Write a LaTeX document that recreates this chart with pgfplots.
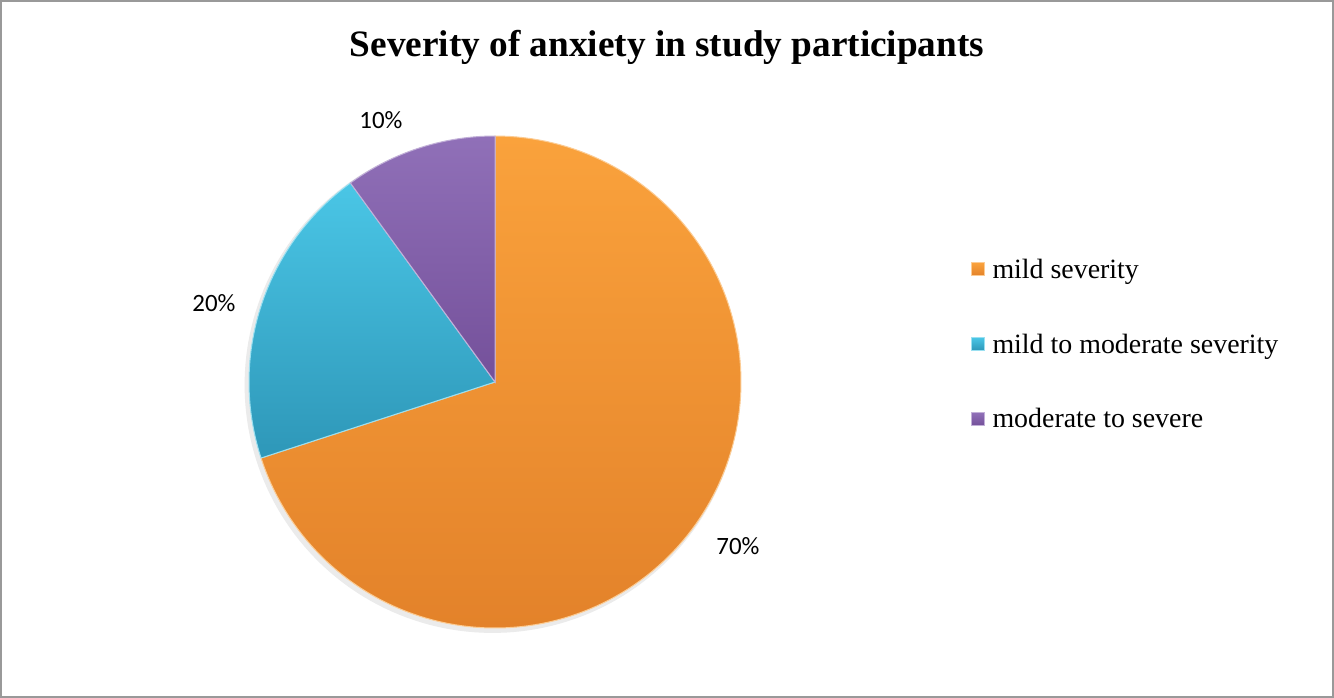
\documentclass[border=0pt]{standalone}
\usepackage{fontspec}
\setmainfont{Liberation Serif}
\newfontfamily\carlito{Carlito}
\usepackage{pgfplots}
\pgfplotsset{compat=1.18}
\definecolor{orA}{HTML}{FAA23C}
\definecolor{orB}{HTML}{E3822A}
\definecolor{cyA}{HTML}{4AC6E6}
\definecolor{cyB}{HTML}{2E97B8}
\definecolor{puA}{HTML}{9070B8}
\definecolor{puB}{HTML}{74509A}
% data (percent)
\def\vMild{70}
\def\vMidMod{20}
\def\vModSev{10}
\pgfmathsetmacro\aA{90}
\pgfmathsetmacro\aB{90-3.6*\vMild}
\pgfmathsetmacro\aC{\aB-3.6*\vMidMod}
\pgfmathsetmacro\aD{\aC-3.6*\vModSev}
\begin{document}
\begin{tikzpicture}
\useasboundingbox (0,0) rectangle (1334bp,-698bp);
\fill[white] (0,0) rectangle (1334bp,-698bp);
\draw[black!40, line width=2bp] (1bp,-1bp) rectangle (1333bp,-697bp);
\node[anchor=base, font=\bfseries\fontsize{37.4}{40}\selectfont] at (667bp,-56bp) {Severity of anxiety in study participants};
\begin{axis}[at={(495bp,-382bp)}, anchor=center, x=246bp, y=246bp,
 xmin=-1, xmax=1, ymin=-1, ymax=1, hide axis, clip=false,
 legend style={at={(axis description cs:1.460,0.577)}, anchor=west, draw=none, fill=none,
   font=\fontsize{28}{30}\selectfont, row sep=50bp,
   /tikz/every odd column/.append style={column sep=6bp}},
 legend cell align=left,
 legend image code/.code={\draw[#1] (0bp,-6.5bp) rectangle (13bp,6.5bp);},
]
\addplot[forget plot, fill=black!8, draw=none, domain=0:360, samples=200]
  ({-0.01+1.008*cos(x)},{-0.012+1.008*sin(x)}) -- cycle;
\addplot[draw=orA!55!white, line width=1bp, top color=orA, bottom color=orB,
  domain=\aA:\aB, samples=150] ({cos(x)},{sin(x)}) -- (axis cs:0,0) -- cycle;
\addlegendentry{mild severity}
\addplot[draw=cyA!55!white, line width=1bp, top color=cyA, bottom color=cyB,
  domain=\aB:\aC, samples=60] ({cos(x)},{sin(x)}) -- (axis cs:0,0) -- cycle;
\addlegendentry{mild to moderate severity}
\addplot[draw=puA!55!white, line width=1bp, top color=puA, bottom color=puB,
  domain=\aC:\aD, samples=40] ({cos(x)},{sin(x)}) -- (axis cs:0,0) -- cycle;
\addlegendentry{moderate to severe}
\end{axis}
\begin{scope}[every node/.style={anchor=base, font=\carlito\fontsize{25}{28}\selectfont}]
\node at (381bp,-128bp) {10\%};
\node at (214bp,-311bp) {20\%};
\node at (738bp,-554bp) {70\%};
\end{scope}
\end{tikzpicture}
\end{document}
